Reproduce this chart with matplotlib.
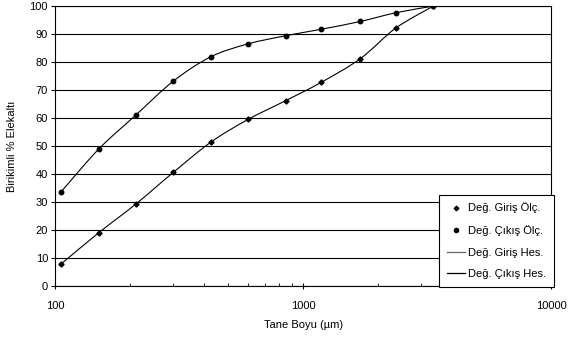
import numpy as np
from matplotlib import pyplot as plt
from matplotlib.path import Path
from matplotlib.patches import PathPatch
from matplotlib.lines import Line2D

plt.rcParams['font.family'] = ['Liberation Sans', 'DejaVu Sans']

# elek boyutlari (mikron)
boyut = [106, 150, 212, 300, 425, 600, 850, 1180, 1700, 2360, 3350]
giris = [7.9, 19.0, 29.3, 40.6, 51.4, 59.5, 66.2, 72.7, 81.2, 92.1, 100]
cikis = [33.7, 48.9, 61.1, 73.2, 81.9, 86.5, 89.4, 91.7, 94.5, 97.6, 100]


def smooth_path(x, y):
    # excel tipi yumusak cizgi: catmull-rom -> bezier (log x uzayinda)
    lx = np.log10(x)
    y = np.asarray(y, float)
    n = len(lx)
    verts = [(x[0], y[0])]
    codes = [Path.MOVETO]
    for i in range(n - 1):
        i0 = max(i - 1, 0)
        i3 = min(i + 2, n - 1)
        c1x = lx[i] + (lx[i + 1] - lx[i0]) / 6
        c1y = y[i] + (y[i + 1] - y[i0]) / 6
        c2x = lx[i + 1] - (lx[i3] - lx[i]) / 6
        c2y = y[i + 1] - (y[i3] - y[i]) / 6
        verts += [(10 ** c1x, c1y), (10 ** c2x, c2y), (x[i + 1], y[i + 1])]
        codes += [Path.CURVE4] * 3
    return Path(verts, codes)


fig = plt.figure(figsize=(5.79, 3.38), dpi=100)
ax = fig.add_axes([0.095, 0.154, 0.857, 0.828])

ax.add_patch(PathPatch(smooth_path(boyut, giris), fill=False, color='black', lw=0.8, zorder=3))
ax.add_patch(PathPatch(smooth_path(boyut, cikis), fill=False, color='black', lw=0.8, zorder=3))
ax.plot(boyut, giris, 'D', color='black', ms=2.6, zorder=4)
ax.plot(boyut, cikis, 'o', color='black', ms=3.2, zorder=4)

ax.set_xscale('log')
ax.set_xlim(100, 10000)
ax.set_ylim(0, 100)
ax.set_yticks(range(0, 101, 10))
ax.set_xticks([100, 1000, 10000])
ax.set_xticklabels(['100', '1000', '10000'])
ax.yaxis.grid(True, color='black', lw=0.8)
ax.set_axisbelow(True)
ax.tick_params(axis='x', which='major', direction='inout', length=5, width=0.8, labelsize=8, pad=8)
ax.tick_params(axis='x', which='minor', direction='in', length=2.5, width=0.6)
ax.tick_params(axis='y', direction='out', length=3, width=0.8, labelsize=8, pad=2)
for s in ax.spines.values():
    s.set_linewidth(0.8)

ax.set_xlabel('Tane Boyu (µm)', fontsize=8, labelpad=7)
ax.set_ylabel('Birikimli % Elekaltı', fontsize=8, labelpad=9)

handles = [
    Line2D([], [], ls='none', marker='D', color='black', ms=2.3),
    Line2D([], [], ls='none', marker='o', color='black', ms=3),
    Line2D([], [], color='#666666', lw=0.9),
    Line2D([], [], color='black', lw=0.9),
]
labels = ['Değ. Giriş Ölç.', 'Değ. Çıkış Ölç.', 'Değ. Giriş Hes.', 'Değ. Çıkış Hes.']
leg = ax.legend(handles, labels, loc='lower right', bbox_to_anchor=(1.005, -0.004),
                fontsize=8, frameon=True, fancybox=False, edgecolor='black',
                framealpha=1, borderpad=0.7, labelspacing=1.05, handlelength=1.6,
                handletextpad=0.3, borderaxespad=0)
leg.get_frame().set_linewidth(0.8)

plt.savefig('out.png', dpi=100)
